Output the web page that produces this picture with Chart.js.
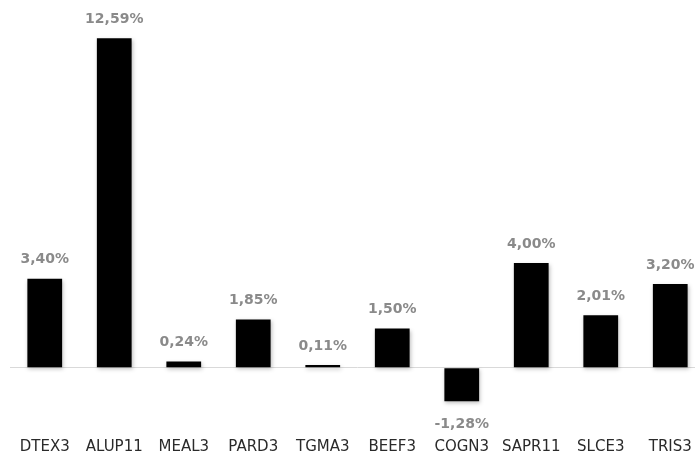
<!DOCTYPE html>
<html lang="pt">
<head>
    <meta charset="UTF-8">
    <title>Retornos</title>
    <script src="https://cdn.jsdelivr.net/npm/chart.js"></script>
    <style>
        html, body { margin: 0; padding: 0; background: #fff; overflow: hidden; }
        #wrap { width: 705px; height: 453px; overflow: hidden; }
    </style>
</head>
<body>
    <div id="wrap">
        <canvas id="chart" width="705" height="462"></canvas>
    </div>

    <script>
        // tickers and returns (%)
        const tickers = ['DTEX3', 'ALUP11', 'MEAL3', 'PARD3', 'TGMA3', 'BEEF3', 'COGN3', 'SAPR11', 'SLCE3', 'TRIS3'];
        const returns = [3.40, 12.59, 0.24, 1.85, 0.11, 1.50, -1.28, 4.00, 2.01, 3.20];

        // soft shadow under the bars, like the spreadsheet original
        const barShadow = {
            id: 'barShadow',
            beforeDatasetsDraw(chart) {
                const ctx = chart.ctx;
                ctx.save();
                ctx.shadowColor = 'rgba(0,0,0,0.25)';
                ctx.shadowBlur = 4;
                ctx.shadowOffsetX = 1;
                ctx.shadowOffsetY = 2;
            },
            afterDatasetsDraw(chart) {
                chart.ctx.restore();
            }
        };

        // value labels above / below the bars
        const valueLabels = {
            id: 'valueLabels',
            afterDatasetsDraw(chart) {
                const ctx = chart.ctx;
                const meta = chart.getDatasetMeta(0);
                ctx.save();
                ctx.font = 'bold 14px "DejaVu Sans"';
                ctx.fillStyle = '#8a8a8a';
                ctx.textAlign = 'center';
                ctx.textBaseline = 'middle';
                meta.data.forEach((bar, i) => {
                    const v = returns[i];
                    const txt = v.toFixed(2).replace('.', ',') + '%';
                    const y = v >= 0 ? bar.y - 19 : bar.y + 23;
                    ctx.fillText(txt, bar.x, y);
                });
                ctx.restore();
            }
        };

        new Chart(document.getElementById('chart'), {
            type: 'bar',
            data: {
                labels: tickers,
                datasets: [{
                    data: returns,
                    backgroundColor: '#000000',
                    borderWidth: 0,
                    barPercentage: 0.5,
                    categoryPercentage: 1.0
                }]
            },
            options: {
                responsive: false,
                animation: false,
                layout: { padding: { left: 10, right: 0, top: 17, bottom: 0 } },
                plugins: {
                    legend: { display: false },
                    tooltip: { enabled: false }
                },
                scales: {
                    x: {
                        grid: { display: false, drawTicks: false },
                        border: { display: false },
                        ticks: {
                            color: '#2a2a2a',
                            font: { family: 'DejaVu Sans', size: 15, lineHeight: 1 },
                            padding: 7.5,
                            maxRotation: 0,
                            autoSkip: false
                        }
                    },
                    y: {
                        min: -2.45,
                        max: 13.4,
                        afterBuildTicks: axis => { axis.ticks = [{ value: 0 }]; },
                        ticks: { display: false },
                        border: { display: false },
                        grid: { color: '#d9d9d9', lineWidth: 1, drawTicks: false }
                    }
                }
            },
            plugins: [barShadow, valueLabels]
        });
    </script>
</body>
</html>
